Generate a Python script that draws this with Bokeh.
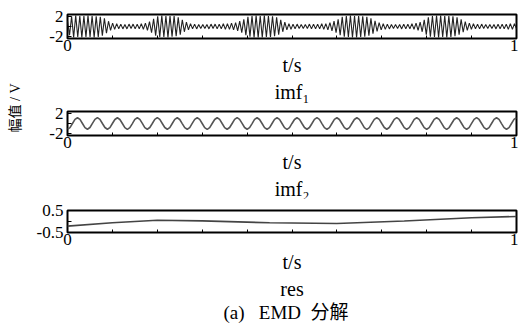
import numpy as np
from math import pi
from bokeh.plotting import figure
from bokeh.layouts import row, column
from bokeh.models import Label, FixedTicker, LinearAxis, Range1d, Title
from bokeh.embed import file_html
from bokeh.resources import INLINE

# ---------------- data ----------------
# original signal: successive extrema (t spread uniformly over 0..1 s)
sig_vals = [
    1.2, -1.8, 2.1, -2.3, 2.3, -2.2, 2.2, -2.3, 2.2, -2.2, 2.3, -2.2, 2.2, -2.3, 2.1, -2.2, 2.0, -1.9, 1.7, -1.4, 1.1, -0.8,
    0.7, -0.6, 0.6, -0.5, 0.5, -0.5, 0.4, -0.5, 0.5, -0.4, 0.5, -0.5, 0.5, -0.5, 0.6, -0.6, 0.7, -0.8, 1.0, -1.3,
    1.6, -1.9, 2.1, -2.2, 2.3, -2.2, 2.2, -2.3, 2.2, -2.1, 2.2, -2.0, 1.9, -1.7, 1.4, -1.1, 0.9, -0.7,
    0.6, -0.5, 0.5, -0.5, 0.4, -0.4, 0.4, -0.4, 0.4, -0.5, 0.5, -0.4, 0.5, -0.5, 0.5, -0.5, 0.6, -0.6, 0.6, -0.6,
    0.7, -0.7, 0.8, -0.9, 1.1, -1.3, 1.5, -1.8,
    2.0, -2.1, 2.2, -2.3, 2.3, -2.3, 2.2, -2.3, 2.3, -2.2, 2.2, -2.2, 2.1, -2.0, 1.9, -1.7, 1.4, -1.1, 0.9, -0.7,
    0.6, -0.6, 0.5, -0.5, 0.5, -0.4, 0.4, -0.4, 0.4, -0.4, 0.5, -0.5, 0.5, -0.5, 0.5, -0.5, 0.6, -0.6, 0.6, -0.7,
    0.8, -0.9, 1.1, -1.3, 1.5, -1.8,
    2.0, -2.1, 2.2, -2.2, 2.3, -2.3, 2.2, -2.3, 2.2, -2.2, 2.1, -2.1, 2.0, -1.9, 1.7, -1.5, 1.2, -1.0, 0.8, -0.7,
    0.6, -0.6, 0.5, -0.5, 0.4, -0.4, 0.4, -0.4, 0.4, -0.5, 0.5, -0.5, 0.5, -0.5, 0.6, -0.6, 0.7, -0.8, 0.9, -1.1,
    1.4, -1.7,
    1.9, -2.1, 2.2, -2.2, 2.3, -2.3, 2.3, -2.2, 2.2, -2.3, 2.2, -2.2, 2.1, -2.0, 1.9, -1.7, 1.5, -1.2, 1.0, -0.8,
    0.7, -0.6,
    0.6, -0.5, 0.5, -0.5, 0.5, -0.4, 0.4, -0.4, 0.4, -0.4, 0.4, -0.5, 0.5, -0.5, 0.5, -0.5, 0.5, -0.6, 0.6, -0.6,
    0.6, -0.5,
]

# imf: samples of the steady oscillation
imf_vals = [
    -1.20, -0.85, 0.00, 0.85, 1.20, 0.85, 0.00, -0.85,
    -1.19, -0.84, 0.01, 0.85, 1.21, 0.86, 0.00, -0.84,
    -1.20, -0.85, 0.00, 0.84, 1.19, 0.84, 0.00, -0.85,
    -1.21, -0.86, -0.01, 0.85, 1.20, 0.85, 0.01, -0.85,
    -1.20, -0.84, 0.00, 0.86, 1.21, 0.85, 0.00, -0.84,
    -1.19, -0.85, 0.00, 0.85, 1.20, 0.84, -0.01, -0.85,
    -1.20, -0.85, 0.01, 0.85, 1.19, 0.85, 0.00, -0.86,
    -1.21, -0.85, 0.00, 0.84, 1.20, 0.86, 0.00, -0.85,
    -1.20, -0.84, 0.00, 0.85, 1.21, 0.85, 0.01, -0.84,
    -1.19, -0.85, -0.01, 0.85, 1.20, 0.84, 0.00, -0.85,
    -1.20, -0.86, 0.00, 0.86, 1.20, 0.85, 0.00, -0.85,
    -1.21, -0.85, 0.01, 0.84, 1.19, 0.85, 0.00, -0.84,
    -1.20, -0.84, 0.00, 0.85, 1.21, 0.86, -0.01, -0.85,
    -1.19, -0.85, 0.00, 0.85, 1.20, 0.84, 0.00, -0.86,
    -1.20, -0.85, 0.00, 0.84, 1.20, 0.85, 0.01, -0.85,
    -1.21, -0.86, 0.01, 0.85, 1.19, 0.85, 0.00, -0.84,
    -1.20, -0.84, 0.00, 0.86, 1.21, 0.84, 0.00, -0.85,
    -1.19, -0.85, -0.01, 0.85, 1.20, 0.85, 0.00, -0.85,
    -1.20, -0.85, 0.00, 0.85, 1.20, 0.86, 0.01, -0.84,
    -1.21, -0.84, 0.00, 0.84, 1.19, 0.85, 0.00, -0.85,
    -1.20, -0.85, 0.01, 0.85, 1.21, 0.84, 0.00, -0.86,
    -1.19, -0.86, 0.00, 0.86, 1.20, 0.85, -0.01, -0.85,
    -1.20, -0.85, 0.00, 0.85, 1.20,
]

# residue
res_t = [0.0, 0.1, 0.2, 0.3, 0.45, 0.6, 0.75, 0.9, 1.0]
res_vals = [-0.21, -0.06, 0.06, 0.03, -0.06, -0.09, 0.02, 0.17, 0.23]

# ticks and texts
x_ticks = [0, 1]
x_tick_labels = ["0", "1"]
x_minor = [0.1, 0.2, 0.3, 0.4, 0.5, 0.6, 0.7, 0.8, 0.9]
y12_ticks = [-2, 2]
y12_tick_labels = ["-2", "2"]
y12_minor = [0]
y3_ticks = [-0.5, 0.5]
y3_tick_labels = ["-0.5", "0.5"]
y3_minor = [0]
x_label = "t/s"
y_label = "幅值 / V"
panel_names = ["imf\u2081", "imf\u2082", "res"]
caption = "(a)\u00a0\u00a0\u00a0EMD\u00a0\u00a0分解"

LATIN = "Liberation Serif"
MIXED = "'Liberation Serif', 'Noto Sans CJK SC', serif"
RW = 488  # width of the right-hand column


def make_panel(h, top, bottom, yr, yticks, ylabels, yminor, xlab_standoff):
    p = figure(width=RW, height=h, x_range=Range1d(0, 1), y_range=Range1d(*yr),
               toolbar_location=None, output_backend="svg", title=None,
               x_axis_location=None, y_axis_location=None,
               min_border_left=37, min_border_right=2,
               min_border_top=top, min_border_bottom=bottom)
    p.xgrid.visible = False
    p.ygrid.visible = False
    p.background_fill_color = "white"
    p.border_fill_color = "white"
    p.outline_line_color = "black"
    p.outline_line_width = 2
    p.outline_line_alpha = 1.0
    xa = LinearAxis(ticker=FixedTicker(ticks=x_ticks, minor_ticks=x_minor),
                    major_label_overrides=dict(zip(x_ticks, x_tick_labels)),
                    axis_line_color=None, major_tick_in=3, major_tick_out=0,
                    minor_tick_in=3, minor_tick_out=0,
                    major_tick_line_color="black", minor_tick_line_color="black",
                    major_label_standoff=1, major_label_text_font=LATIN,
                    major_label_text_font_size="17px", major_label_text_color="black",
                    axis_label=x_label, axis_label_standoff=xlab_standoff,
                    axis_label_text_font=LATIN, axis_label_text_font_size="20px",
                    axis_label_text_font_style="normal", axis_label_text_color="black")
    p.add_layout(xa, "below")
    ya = LinearAxis(ticker=FixedTicker(ticks=yticks, minor_ticks=yminor),
                    major_label_overrides=dict(zip(yticks, ylabels)),
                    axis_line_color=None, major_tick_in=4, major_tick_out=0,
                    minor_tick_in=4, minor_tick_out=0,
                    major_tick_line_color="black", minor_tick_line_color="black",
                    major_label_standoff=4, major_label_text_font=LATIN,
                    major_label_text_font_size="17px", major_label_text_color="black")
    p.add_layout(ya, "left")
    return p


def add_title(p, text, size=20, align="center", offset=0, font=LATIN):
    p.add_layout(Title(text=text, align=align, offset=offset, standoff=0,
                       text_font=font, text_font_size=f"{size}px",
                       text_font_style="normal", text_color="black"), "below")


# panel 1: original signal
p1 = make_panel(103, 14, 65, (-2.5, 2.5), y12_ticks, y12_tick_labels, y12_minor, 0)
t1 = np.linspace(0, 1, len(sig_vals))
p1.line(t1, sig_vals, line_color="#222222", line_width=1.1)
add_title(p1, panel_names[0], offset=4)

# panel 2: imf
p2 = make_panel(96, 8, 64, (-2.5, 2.5), y12_ticks, y12_tick_labels, y12_minor, 0)
t2 = np.linspace(0, 1, len(imf_vals))
p2.line(t2, imf_vals, line_color="#555555", line_width=1.6)
add_title(p2, panel_names[1], offset=4)

# panel 3: residue
p3 = make_panel(124, 11, 91, (-0.5, 0.5), y3_ticks, y3_tick_labels, y3_minor, 3)
p3.line(res_t, res_vals, line_color="#444444", line_width=1.6)
add_title(p3, panel_names[2])
add_title(p3, caption, size=19, align="left", offset=156, font=MIXED)

# y label column
pl = figure(width=30, height=323, x_range=Range1d(0, 30), y_range=Range1d(0, 323),
            toolbar_location=None, output_backend="svg", title=None,
            x_axis_location=None, y_axis_location=None,
            min_border_left=0, min_border_right=0, min_border_top=0, min_border_bottom=0)
pl.xgrid.visible = False
pl.ygrid.visible = False
pl.outline_line_color = None
pl.background_fill_color = "white"
pl.border_fill_color = "white"
pl.add_layout(Label(x=14.5, y=191, text=y_label, angle=pi / 2,
                    text_font=MIXED, text_font_size="14px", text_align="left",
                    text_baseline="middle", text_color="black"))

layout = row(pl, column(p1, p2, p3))

open("out.html", "w").write(file_html(layout, INLINE))
